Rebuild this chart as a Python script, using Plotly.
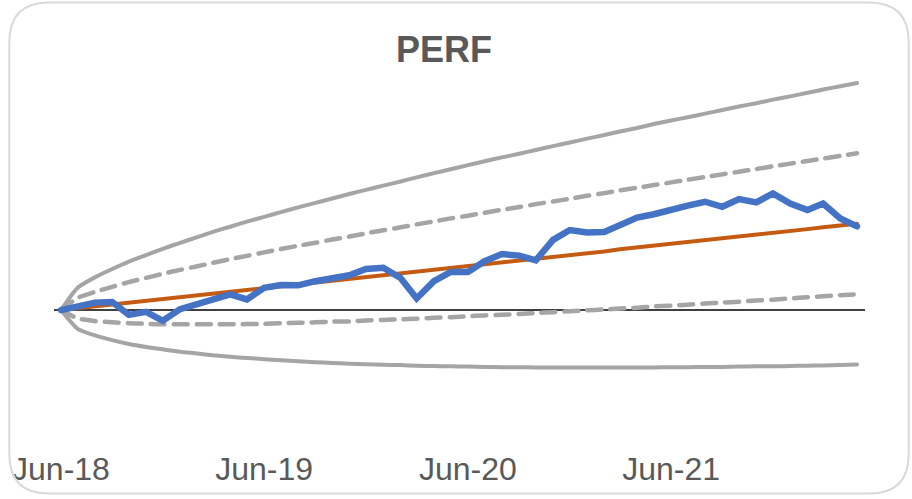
import plotly.graph_objects as go

# ---------------- data ----------------
months = [
    "2018-06-01", "2018-07-01", "2018-08-01", "2018-09-01", "2018-10-01", "2018-11-01", "2018-12-01",
    "2019-01-01", "2019-02-01", "2019-03-01", "2019-04-01", "2019-05-01", "2019-06-01",
    "2019-07-01", "2019-08-01", "2019-09-01", "2019-10-01", "2019-11-01", "2019-12-01",
    "2020-01-01", "2020-02-01", "2020-03-01", "2020-04-01", "2020-05-01", "2020-06-01",
    "2020-07-01", "2020-08-01", "2020-09-01", "2020-10-01", "2020-11-01", "2020-12-01",
    "2021-01-01", "2021-02-01", "2021-03-01", "2021-04-01", "2021-05-01", "2021-06-01",
    "2021-07-01", "2021-08-01", "2021-09-01", "2021-10-01", "2021-11-01", "2021-12-01",
    "2022-01-01", "2022-02-01", "2022-03-01", "2022-04-01", "2022-05-01",
]

perf = [0.0, 1.4, 2.5, 2.7, -1.6, -0.6, -3.6, 0.3, 1.9, 3.3, 5.3, 3.6, 7.5, 8.4, 8.3, 9.7,
        10.8, 11.7, 13.8, 14.2, 10.8, 3.9, 9.7, 12.8, 12.8, 16.4, 18.8, 18.3, 16.7, 23.6, 26.9, 26.1,
        26.2, 28.6, 31.1, 32.2, 33.9, 35.1, 36.4, 34.7, 37.3, 36.2, 39.2, 35.8, 33.6, 35.8, 30.8, 28.1]

trend = [0.0, 0.6, 1.2, 1.9, 2.5, 3.1, 3.7, 4.3, 4.9, 5.6, 6.2, 6.8, 7.4, 8.0, 8.6, 9.3,
         9.9, 10.5, 11.1, 11.7, 12.3, 13.0, 13.6, 14.2, 14.8, 15.4, 16.0, 16.7, 17.3, 17.9, 18.5, 19.1,
         19.7, 20.4, 21.0, 21.6, 22.2, 22.8, 23.5, 24.1, 24.7, 25.3, 25.9, 26.5, 27.2, 27.8, 28.4, 29.0]

upper_1sd = [0.0, 4.1, 6.1, 7.8, 9.4, 10.8, 12.2, 13.5, 14.7, 15.9, 17.1, 18.2, 19.4, 20.5, 21.6, 22.6,
             23.7, 24.7, 25.8, 26.8, 27.8, 28.8, 29.8, 30.8, 31.7, 32.7, 33.7, 34.6, 35.6, 36.5, 37.4, 38.4,
             39.3, 40.2, 41.1, 42.0, 42.9, 43.8, 44.7, 45.6, 46.5, 47.4, 48.3, 49.2, 50.1, 50.9, 51.8, 52.7]

lower_1sd = [0.0, -2.8, -3.7, -4.1, -4.4, -4.6, -4.8, -4.8, -4.8, -4.8, -4.8, -4.7, -4.6, -4.4, -4.3, -4.1,
             -3.9, -3.8, -3.5, -3.3, -3.1, -2.9, -2.6, -2.4, -2.1, -1.8, -1.6, -1.3, -1.0, -0.7, -0.4, -0.1,
             0.2, 0.5, 0.8, 1.2, 1.5, 1.8, 2.2, 2.5, 2.8, 3.2, 3.5, 3.9, 4.3, 4.6, 5.0, 5.3]

upper_2sd = [0.0, 7.5, 11.0, 13.8, 16.3, 18.5, 20.6, 22.6, 24.5, 26.3, 28.0, 29.7, 31.3, 32.9, 34.5, 36.0,
             37.5, 39.0, 40.4, 41.8, 43.2, 44.6, 46.0, 47.3, 48.7, 50.0, 51.3, 52.5, 53.8, 55.1, 56.3, 57.6,
             58.8, 60.0, 61.2, 62.5, 63.7, 64.8, 66.0, 67.2, 68.4, 69.5, 70.7, 71.8, 73.0, 74.1, 75.2, 76.3]

lower_2sd = [0.0, -6.3, -8.5, -10.1, -11.4, -12.4, -13.2, -14.0, -14.6, -15.2, -15.7, -16.1, -16.5, -16.9, -17.2, -17.5,
             -17.8, -18.0, -18.2, -18.4, -18.5, -18.7, -18.8, -18.9, -19.0, -19.1, -19.2, -19.2, -19.3, -19.3, -19.3, -19.3,
             -19.3, -19.3, -19.3, -19.3, -19.2, -19.2, -19.1, -19.1, -19.0, -18.9, -18.9, -18.8, -18.7, -18.6, -18.5, -18.3]

tick_dates = ["2018-06-01", "2019-06-01", "2020-06-01", "2021-06-01"]
tick_labels = ["Jun-18", "Jun-19", "Jun-20", "Jun-21"]

# ---------------- layout geometry ----------------
W, H = 912, 499
L, R, T, B = 48, 47, 70, 54          # plot area: x 48..865, y 70..445
PW, PH = W - L - R, H - T - B

FONT = "Liberation Sans, Arial, sans-serif"
GREY = "#A5A5A5"


def px2paper(x, y):
    return (x - L) / PW, (H - B - y) / PH


def rounded_rect(x0, y0, x1, y1, r):
    def p(x, y):
        px_, py_ = px2paper(x, y)
        return f"{px_:.5f},{py_:.5f}"
    return (f"M {p(x0 + r, y0)} L {p(x1 - r, y0)} Q {p(x1, y0)} {p(x1, y0 + r)} "
            f"L {p(x1, y1 - r)} Q {p(x1, y1)} {p(x1 - r, y1)} "
            f"L {p(x0 + r, y1)} Q {p(x0, y1)} {p(x0, y1 - r)} "
            f"L {p(x0, y0 + r)} Q {p(x0, y0)} {p(x0 + r, y0)} Z")


fig = go.Figure()

band_style = dict(shape="spline", smoothing=0.6)
fig.add_trace(go.Scatter(x=months, y=upper_2sd, mode="lines",
                         line=dict(color=GREY, width=4, **band_style)))
fig.add_trace(go.Scatter(x=months, y=lower_2sd, mode="lines",
                         line=dict(color=GREY, width=4, **band_style)))
fig.add_trace(go.Scatter(x=months, y=upper_1sd, mode="lines",
                         line=dict(color=GREY, width=4.5, dash="14px,9px", **band_style)))
fig.add_trace(go.Scatter(x=months, y=lower_1sd, mode="lines",
                         line=dict(color=GREY, width=4.5, dash="14px,9px", **band_style)))
fig.add_trace(go.Scatter(x=months, y=trend, mode="lines",
                         line=dict(color="#C55A11", width=4)))
fig.add_trace(go.Scatter(x=months, y=perf, mode="lines",
                         line=dict(color="#4472C4", width=6.5)))

y_top = (312 - T) / 3.0
y_bot = -(H - B - 312) / 3.0

fig.update_layout(
    width=W, height=H,
    margin=dict(l=L, r=R, t=T, b=B, pad=0),
    paper_bgcolor="white", plot_bgcolor="white",
    showlegend=False,
    font=dict(family=FONT, color="#595959"),
    title=dict(text="<b>PERF</b>", x=444 / W, xanchor="center", xref="container",
               y=1 - 49 / H, yanchor="middle", yref="container",
               font=dict(size=36, color="#595959", family=FONT)),
    xaxis=dict(type="date", range=["2018-05-19 12:00", "2022-05-15 08:00"],
               tickvals=tick_dates, ticktext=tick_labels,
               showgrid=False, zeroline=False, showline=False, ticks="",
               ticklabelstandoff=5,
               tickfont=dict(size=32, color="#595959", family=FONT)),
    yaxis=dict(range=[y_bot, y_top], showgrid=False, showticklabels=False,
               zeroline=True, zerolinecolor="#404040", zerolinewidth=2,
               showline=False, ticks=""),
    shapes=[dict(type="path", xref="paper", yref="paper", layer="above",
                 path=rounded_rect(3, 2, 909, 497, 40),
                 line=dict(color="#D9D9D9", width=2))],
)

fig.write_html("out.html",
               config={"displayModeBar": False},
               post_script=("document.body.style.margin='0';"
                            "document.body.style.overflow='hidden';"
                            "document.querySelectorAll('.scatterlayer path.js-line')"
                            ".forEach(function(p){p.style.strokeLinecap='round';});"))
